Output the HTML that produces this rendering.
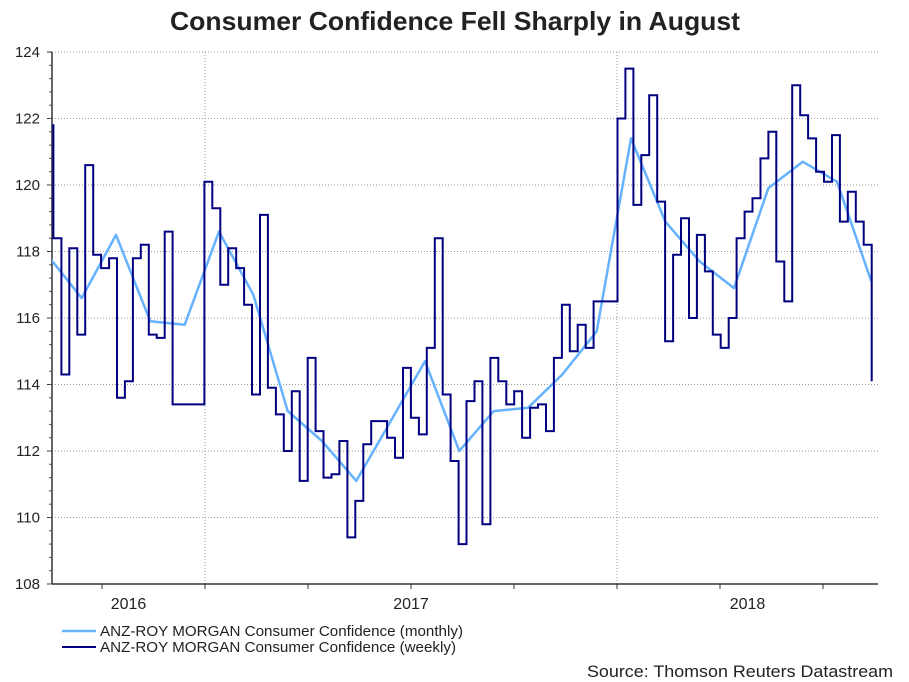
<!DOCTYPE html>
<html><head><meta charset="utf-8">
<style>
body{margin:0;background:#fff;}
svg{display:block;font-family:"Liberation Sans",Arial,sans-serif;}
</style></head>
<body>
<svg id="chart" width="909" height="682" viewBox="0 0 909 682">
<text x="455" y="30" text-anchor="middle" font-size="26" font-weight="bold" fill="#222" textLength="570" lengthAdjust="spacingAndGlyphs">Consumer Confidence Fell Sharply in August</text>
<g id="grid"></g>
<g id="yaxis"></g>
<g id="xaxis"></g>
<defs><clipPath id="plotclip"><rect x="52" y="40" width="828" height="560"/></clipPath></defs>
<g id="series" clip-path="url(#plotclip)"></g>
<g>
 <line x1="62" y1="631" x2="96" y2="631" stroke="#66b2ff" stroke-width="2.5"/>
 <text x="100" y="636" font-size="15" fill="#222" textLength="363" lengthAdjust="spacingAndGlyphs">ANZ-ROY MORGAN Consumer Confidence (monthly)</text>
 <line x1="62" y1="647" x2="96" y2="647" stroke="#000080" stroke-width="2"/>
 <text x="100" y="652" font-size="15" fill="#222" textLength="356" lengthAdjust="spacingAndGlyphs">ANZ-ROY MORGAN Consumer Confidence (weekly)</text>
</g>
<text x="893" y="677" text-anchor="end" font-size="17" fill="#222" textLength="306" lengthAdjust="spacingAndGlyphs">Source: Thomson Reuters Datastream</text>
</svg>
<script>
// Weekly values (first week starts just before plot start)
const weeklyValues = [121.8,118.4,114.3,118.1,115.5,120.6,117.9,117.5,117.8,113.6,114.1,117.8,118.2,115.5,115.4,118.6,113.4,113.4,113.4,113.4,
120.1,119.3,117.0,118.1,117.5,116.4,113.7,119.1,113.9,113.1,112.0,113.8,111.1,114.8,112.6,111.2,111.3,112.3,109.4,110.5,
112.2,112.9,112.9,112.4,111.8,114.5,113.0,112.5,115.1,118.4,113.7,111.7,109.2,113.5,114.1,109.8,114.8,114.1,113.4,113.8,
112.4,113.3,113.4,112.6,114.8,116.4,115.0,115.8,115.1,116.5,116.5,116.5,122.0,123.5,119.4,120.9,122.7,119.5,115.3,117.9,
119.0,116.0,118.5,117.4,115.5,115.1,116.0,118.4,119.2,119.6,120.8,121.6,117.7,116.5,123.0,122.1,121.4,120.4,120.1,121.5,
118.9,119.8,118.9,118.2,114.1];
// Monthly values Aug 2016 .. Aug 2018
const monthlyLabels = ["Aug16","Sep16","Oct16","Nov16","Dec16","Jan17","Feb17","Mar17","Apr17","May17","Jun17","Jul17","Aug17","Sep17","Oct17","Nov17","Dec17","Jan18","Feb18","Mar18","Apr18","May18","Jun18","Jul18","Aug18"];
const monthlyValues = [117.9,116.6,118.5,115.9,115.8,118.6,116.7,113.2,112.3,111.1,112.9,114.7,112.0,113.2,113.3,114.3,115.6,121.4,118.9,117.7,116.9,119.9,120.7,120.1,117.1];
const yTicks = [108,110,112,114,116,118,120,122,124];
const yearLabels = ["2016","2017","2018"];

const NS="http://www.w3.org/2000/svg";
const X0=52,X1=878,Y0=52,Y1=584,VMIN=108,VMAX=124;
const JAN17=205, YEARPX=412, MONTHPX=YEARPX/12, WEEKPX=7.944;
function yScale(v){return Y1-(v-VMIN)/(VMAX-VMIN)*(Y1-Y0);}
function xWeek(i){return 45.5+i*WEEKPX;}
function xMonth(k){return JAN17+(k-5)*MONTHPX+14;} // k=0 -> Aug 2016
function mk(tag,attrs,parent){const e=document.createElementNS(NS,tag);for(const k in attrs)e.setAttribute(k,attrs[k]);parent.appendChild(e);return e;}

const grid=document.getElementById('grid'),yax=document.getElementById('yaxis'),xax=document.getElementById('xaxis'),ser=document.getElementById('series');
yTicks.forEach(t=>{
  const y=yScale(t);
  if(t>VMIN){const g=mk('line',{x1:X0,x2:X1,y1:y,y2:y,stroke:'#9a9a9a','stroke-width':1,'stroke-dasharray':'1,2'},grid);
  
  }
  const lb=mk('text',{x:40,y:y+5,'text-anchor':'end','font-size':15,fill:'#222'},yax);
  lb.textContent=t;
  
  
  mk('line',{x1:X0-5,x2:X0,y1:y,y2:y,stroke:'#333'},yax);
});
for(let v=VMIN;v<=VMAX;v+=0.4){mk('line',{x1:X0-3,x2:X0,y1:yScale(v),y2:yScale(v),stroke:'#555'},yax);}
[JAN17,JAN17+YEARPX].forEach(x=>{
  const g=mk('line',{x1:x,x2:x,y1:Y0,y2:Y1,stroke:'#9a9a9a','stroke-width':1,'stroke-dasharray':'1,2'},grid);
  
  
});
mk('line',{x1:X0,x2:X0,y1:Y0,y2:Y1,stroke:'#333','stroke-width':1.5},yax);
mk('line',{x1:X0,x2:X1,y1:Y1,y2:Y1,stroke:'#333','stroke-width':1.5},xax);
for(let q=-2;q<=6;q++){const x=JAN17+q*YEARPX/4;if(x<X0||x>X1)continue;mk('line',{x1:x,x2:x,y1:Y1,y2:Y1+5,stroke:'#333'},xax);}
const yearCenters=[(X0+JAN17)/2,JAN17+YEARPX/2,(JAN17+YEARPX+X1)/2];
yearLabels.forEach((l,i)=>{const t=mk('text',{x:yearCenters[i],y:609,'text-anchor':'middle','font-size':16,fill:'#222'},xax);t.textContent=l;

});

// monthly line
let d='';monthlyValues.forEach((v,k)=>{d+=(k?'L':'M')+xMonth(k).toFixed(1)+','+yScale(v).toFixed(1);});
const ml=mk('path',{d:d,fill:'none',stroke:'#66b2ff','stroke-width':2.5,'stroke-linejoin':'round'},ser);


// weekly step line
let w='';weeklyValues.forEach((v,i)=>{const x=xWeek(i),y=yScale(v);
  if(i===0)w+='M'+x.toFixed(1)+','+y.toFixed(1);else w+='L'+x.toFixed(1)+','+y.toFixed(1);
  if(i<weeklyValues.length-1)w+='L'+xWeek(i+1).toFixed(1)+','+y.toFixed(1);});
const wl=mk('path',{d:w,fill:'none',stroke:'#000080','stroke-width':2,'stroke-linejoin':'miter'},ser);


</script>
</body></html>
